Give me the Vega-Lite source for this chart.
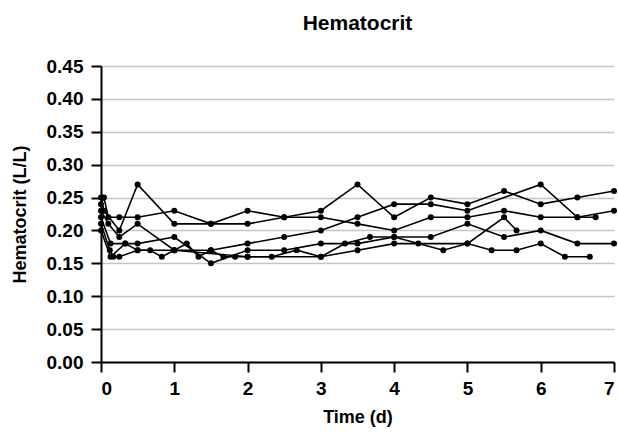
{
  "$schema": "https://vega.github.io/schema/vega-lite/v6.json",
  "width": 513,
  "height": 296,
  "autosize": "none",
  "padding": {"left": 101, "top": 66, "right": 4, "bottom": 70},
  "title": {"text": "Hematocrit", "font": "Liberation Sans", "fontSize": 21, "fontWeight": "bold", "color": "black", "anchor": "middle", "offset": 23},
  "data": {"values": [
    {"id":"H","t":0,"v":0.25},{"id":"H","t":0.04,"v":0.23},{"id":"H","t":0.25,"v":0.20},{"id":"H","t":0.5,"v":0.27},{"id":"H","t":1,"v":0.21},{"id":"H","t":1.5,"v":0.21},{"id":"H","t":2,"v":0.21},{"id":"H","t":2.5,"v":0.22},{"id":"H","t":3,"v":0.22},{"id":"H","t":3.5,"v":0.21},{"id":"H","t":4,"v":0.20},{"id":"H","t":4.5,"v":0.22},{"id":"H","t":5,"v":0.22},{"id":"H","t":5.5,"v":0.23},{"id":"H","t":6,"v":0.22},{"id":"H","t":6.5,"v":0.22},{"id":"H","t":7,"v":0.23},
    {"id":"B","t":0,"v":0.24},{"id":"B","t":0.04,"v":0.25},{"id":"B","t":0.1,"v":0.22},{"id":"B","t":0.25,"v":0.22},{"id":"B","t":0.5,"v":0.22},{"id":"B","t":1,"v":0.23},{"id":"B","t":1.5,"v":0.21},{"id":"B","t":2,"v":0.23},{"id":"B","t":2.5,"v":0.22},{"id":"B","t":3,"v":0.23},{"id":"B","t":3.5,"v":0.27},{"id":"B","t":4,"v":0.22},{"id":"B","t":4.5,"v":0.25},{"id":"B","t":5,"v":0.24},{"id":"B","t":5.5,"v":0.26},{"id":"B","t":6,"v":0.24},{"id":"B","t":6.5,"v":0.25},{"id":"B","t":7,"v":0.26},
    {"id":"C","t":0,"v":0.23},{"id":"C","t":0.1,"v":0.21},{"id":"C","t":0.25,"v":0.19},{"id":"C","t":0.5,"v":0.21},{"id":"C","t":1,"v":0.17},{"id":"C","t":1.5,"v":0.17},{"id":"C","t":2,"v":0.18},{"id":"C","t":2.5,"v":0.19},{"id":"C","t":3,"v":0.20},{"id":"C","t":3.5,"v":0.22},{"id":"C","t":4,"v":0.24},{"id":"C","t":4.5,"v":0.24},{"id":"C","t":5,"v":0.23},{"id":"C","t":6,"v":0.27},{"id":"C","t":6.5,"v":0.22},{"id":"C","t":6.75,"v":0.22},
    {"id":"D","t":0,"v":0.22},{"id":"D","t":0.13,"v":0.18},{"id":"D","t":0.33,"v":0.18},{"id":"D","t":0.5,"v":0.18},{"id":"D","t":1,"v":0.19},{"id":"D","t":1.5,"v":0.15},{"id":"D","t":2,"v":0.17},{"id":"D","t":2.5,"v":0.17},{"id":"D","t":3,"v":0.18},{"id":"D","t":3.5,"v":0.18},{"id":"D","t":4,"v":0.19},{"id":"D","t":4.5,"v":0.19},{"id":"D","t":5,"v":0.21},{"id":"D","t":5.5,"v":0.19},{"id":"D","t":6,"v":0.20},{"id":"D","t":6.5,"v":0.18},{"id":"D","t":7,"v":0.18},
    {"id":"E","t":0,"v":0.21},{"id":"E","t":0.12,"v":0.17},{"id":"E","t":0.17,"v":0.16},{"id":"E","t":0.25,"v":0.16},{"id":"E","t":0.5,"v":0.17},{"id":"E","t":1,"v":0.17},{"id":"E","t":2,"v":0.16},{"id":"E","t":3,"v":0.16},{"id":"E","t":3.5,"v":0.17},{"id":"E","t":4,"v":0.18},{"id":"E","t":5,"v":0.18},{"id":"E","t":5.5,"v":0.22},{"id":"E","t":5.67,"v":0.20},
    {"id":"L","t":0,"v":0.20},{"id":"L","t":0.13,"v":0.16},{"id":"L","t":0.33,"v":0.18},{"id":"L","t":0.5,"v":0.17},{"id":"L","t":0.67,"v":0.17},{"id":"L","t":0.83,"v":0.16},{"id":"L","t":1,"v":0.17},{"id":"L","t":1.17,"v":0.18},{"id":"L","t":1.33,"v":0.16},{"id":"L","t":1.5,"v":0.17},{"id":"L","t":1.67,"v":0.16},{"id":"L","t":1.83,"v":0.16},{"id":"L","t":2,"v":0.16},{"id":"L","t":2.33,"v":0.16},{"id":"L","t":2.67,"v":0.17},{"id":"L","t":3,"v":0.16},{"id":"L","t":3.33,"v":0.18},{"id":"L","t":3.67,"v":0.19},{"id":"L","t":4,"v":0.19},{"id":"L","t":4.33,"v":0.18},{"id":"L","t":4.67,"v":0.17},{"id":"L","t":5,"v":0.18},{"id":"L","t":5.33,"v":0.17},{"id":"L","t":5.67,"v":0.17},{"id":"L","t":6,"v":0.18},{"id":"L","t":6.33,"v":0.16},{"id":"L","t":6.67,"v":0.16}
  ]},
  "mark": {"type": "line", "color": "black", "strokeWidth": 1.6, "clip": false, "point": {"filled": true, "color": "black", "size": 36, "opacity": 1}},
  "encoding": {
    "x": {"field": "t", "type": "quantitative", "scale": {"domain": [0, 7], "nice": false}, "axis": {"title": "Time (d)", "values": [0,1,2,3,4,5,6,7], "grid": false, "titlePadding": 10, "labelPadding": 7}},
    "y": {"field": "v", "type": "quantitative", "scale": {"domain": [0, 0.45], "nice": false, "zero": true}, "axis": {"title": "Hematocrit (L/L)", "values": [0,0.05,0.1,0.15,0.2,0.25,0.3,0.35,0.4,0.45], "format": ".2f", "grid": true, "titlePadding": 17, "labelPadding": 8}},
    "detail": {"field": "id", "type": "nominal"}
  },
  "config": {
    "view": {"stroke": null},
    "axis": {
      "domainColor": "black", "domainWidth": 2, "tickColor": "black", "tickWidth": 2, "tickSize": 10,
      "labelFont": "Liberation Sans", "labelFontWeight": "bold", "labelFontSize": 19, "labelColor": "black",
      "titleFont": "Liberation Sans", "titleFontWeight": "bold", "titleFontSize": 18, "titleColor": "black",
      "gridColor": "#c4c4c4", "gridWidth": 1.5
    }
  }
}
